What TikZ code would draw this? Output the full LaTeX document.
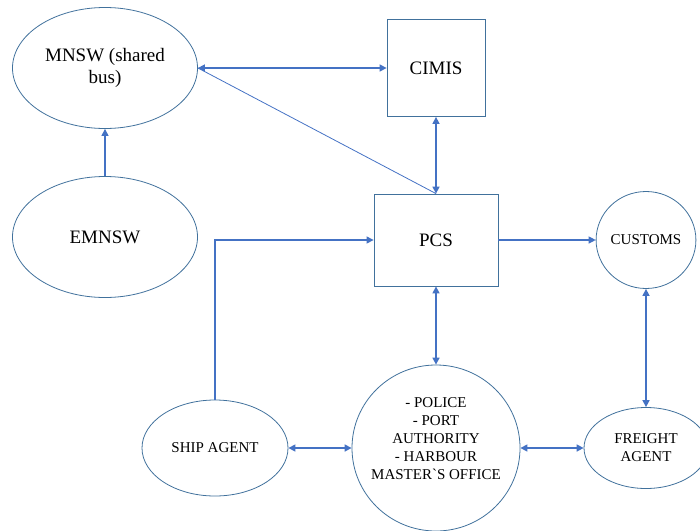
\documentclass[tikz,border=0pt]{standalone}
\usepackage{fontspec}
\setmainfont{Liberation Serif}
\newfontfamily\plainserif{Liberation Serif}
\usetikzlibrary{arrows.meta,positioning,shapes.geometric}
\definecolor{lineblue}{HTML}{4472C4}
\definecolor{edgeblue}{HTML}{41719C}
\newcommand{\fbig}{\fontsize{19}{22}\selectfont}
\newcommand{\fsmall}{\fontsize{15}{18}\selectfont}
\tikzset{
  rectbox/.style={rectangle, draw=edgeblue, line width=0.8pt, align=center, font=\fbig, inner sep=0pt},
  ovalbox/.style={ellipse, draw=edgeblue, line width=0.8pt, align=center, font=#1, inner sep=0pt},
  arr/.style={-{Triangle[length=7pt,width=7pt]}, line width=1.1pt, draw=lineblue},
  darr/.style={{Triangle[length=7pt,width=7pt]}-{Triangle[length=7pt,width=7pt]}, line width=1.5pt, draw=lineblue},
  plain/.style={line width=0.8pt, draw=lineblue},
}

\begin{document}
\begin{tikzpicture}[x=1pt,y=-1pt]
     \useasboundingbox (0,0) rectangle (700,530);
     \node[ovalbox=\fbig, minimum width=185pt, minimum height=121pt] (mnsw) at (105,68) {MNSW (shared\\bus)};
     \node[rectbox, minimum width=98pt, minimum height=97pt] (cimis) at (436,68) {CIMIS};
     \node[ovalbox=\fbig, minimum width=185pt, minimum height=121pt] (emnsw) at (105,237) {EMNSW};
     \node[rectbox, minimum width=124pt, minimum height=92pt] (pcs) at (436,240) {PCS};
     \node[ovalbox=\fsmall, minimum width=97pt, minimum height=97pt] (customs) at (646,240) {CUSTOMS};
     \node[ovalbox=\fsmall, minimum width=146pt, minimum height=96pt] (ship) at (215,448) {SHIP AGENT};
     \node[ovalbox=\fsmall, inner xsep=-8pt, minimum width=168pt, minimum height=166pt] (auth) at (436,448) {- POLICE\\- PORT\\AUTHORITY\\- HARBOUR\\MASTER{\plainserif`}S OFFICE\\\mbox{}};
     \node[ovalbox=\fsmall, minimum width=124pt, minimum height=81pt] (freight) at (646,448) {FREIGHT\\AGENT};
     \draw[darr](mnsw.east)--(cimis.west); \draw[plain](mnsw.east)--(pcs.north);
     \draw[darr](cimis)--(pcs); \draw[arr](emnsw)--(mnsw);
     \draw[arr](ship.north)|-(pcs.west); \draw[arr](pcs)--(customs);
     \draw[darr](pcs)--(auth); \draw[darr](customs)--(freight);
     \draw[darr](ship)--(auth); \draw[darr](auth)--(freight);
   \end{tikzpicture}
\end{document}
